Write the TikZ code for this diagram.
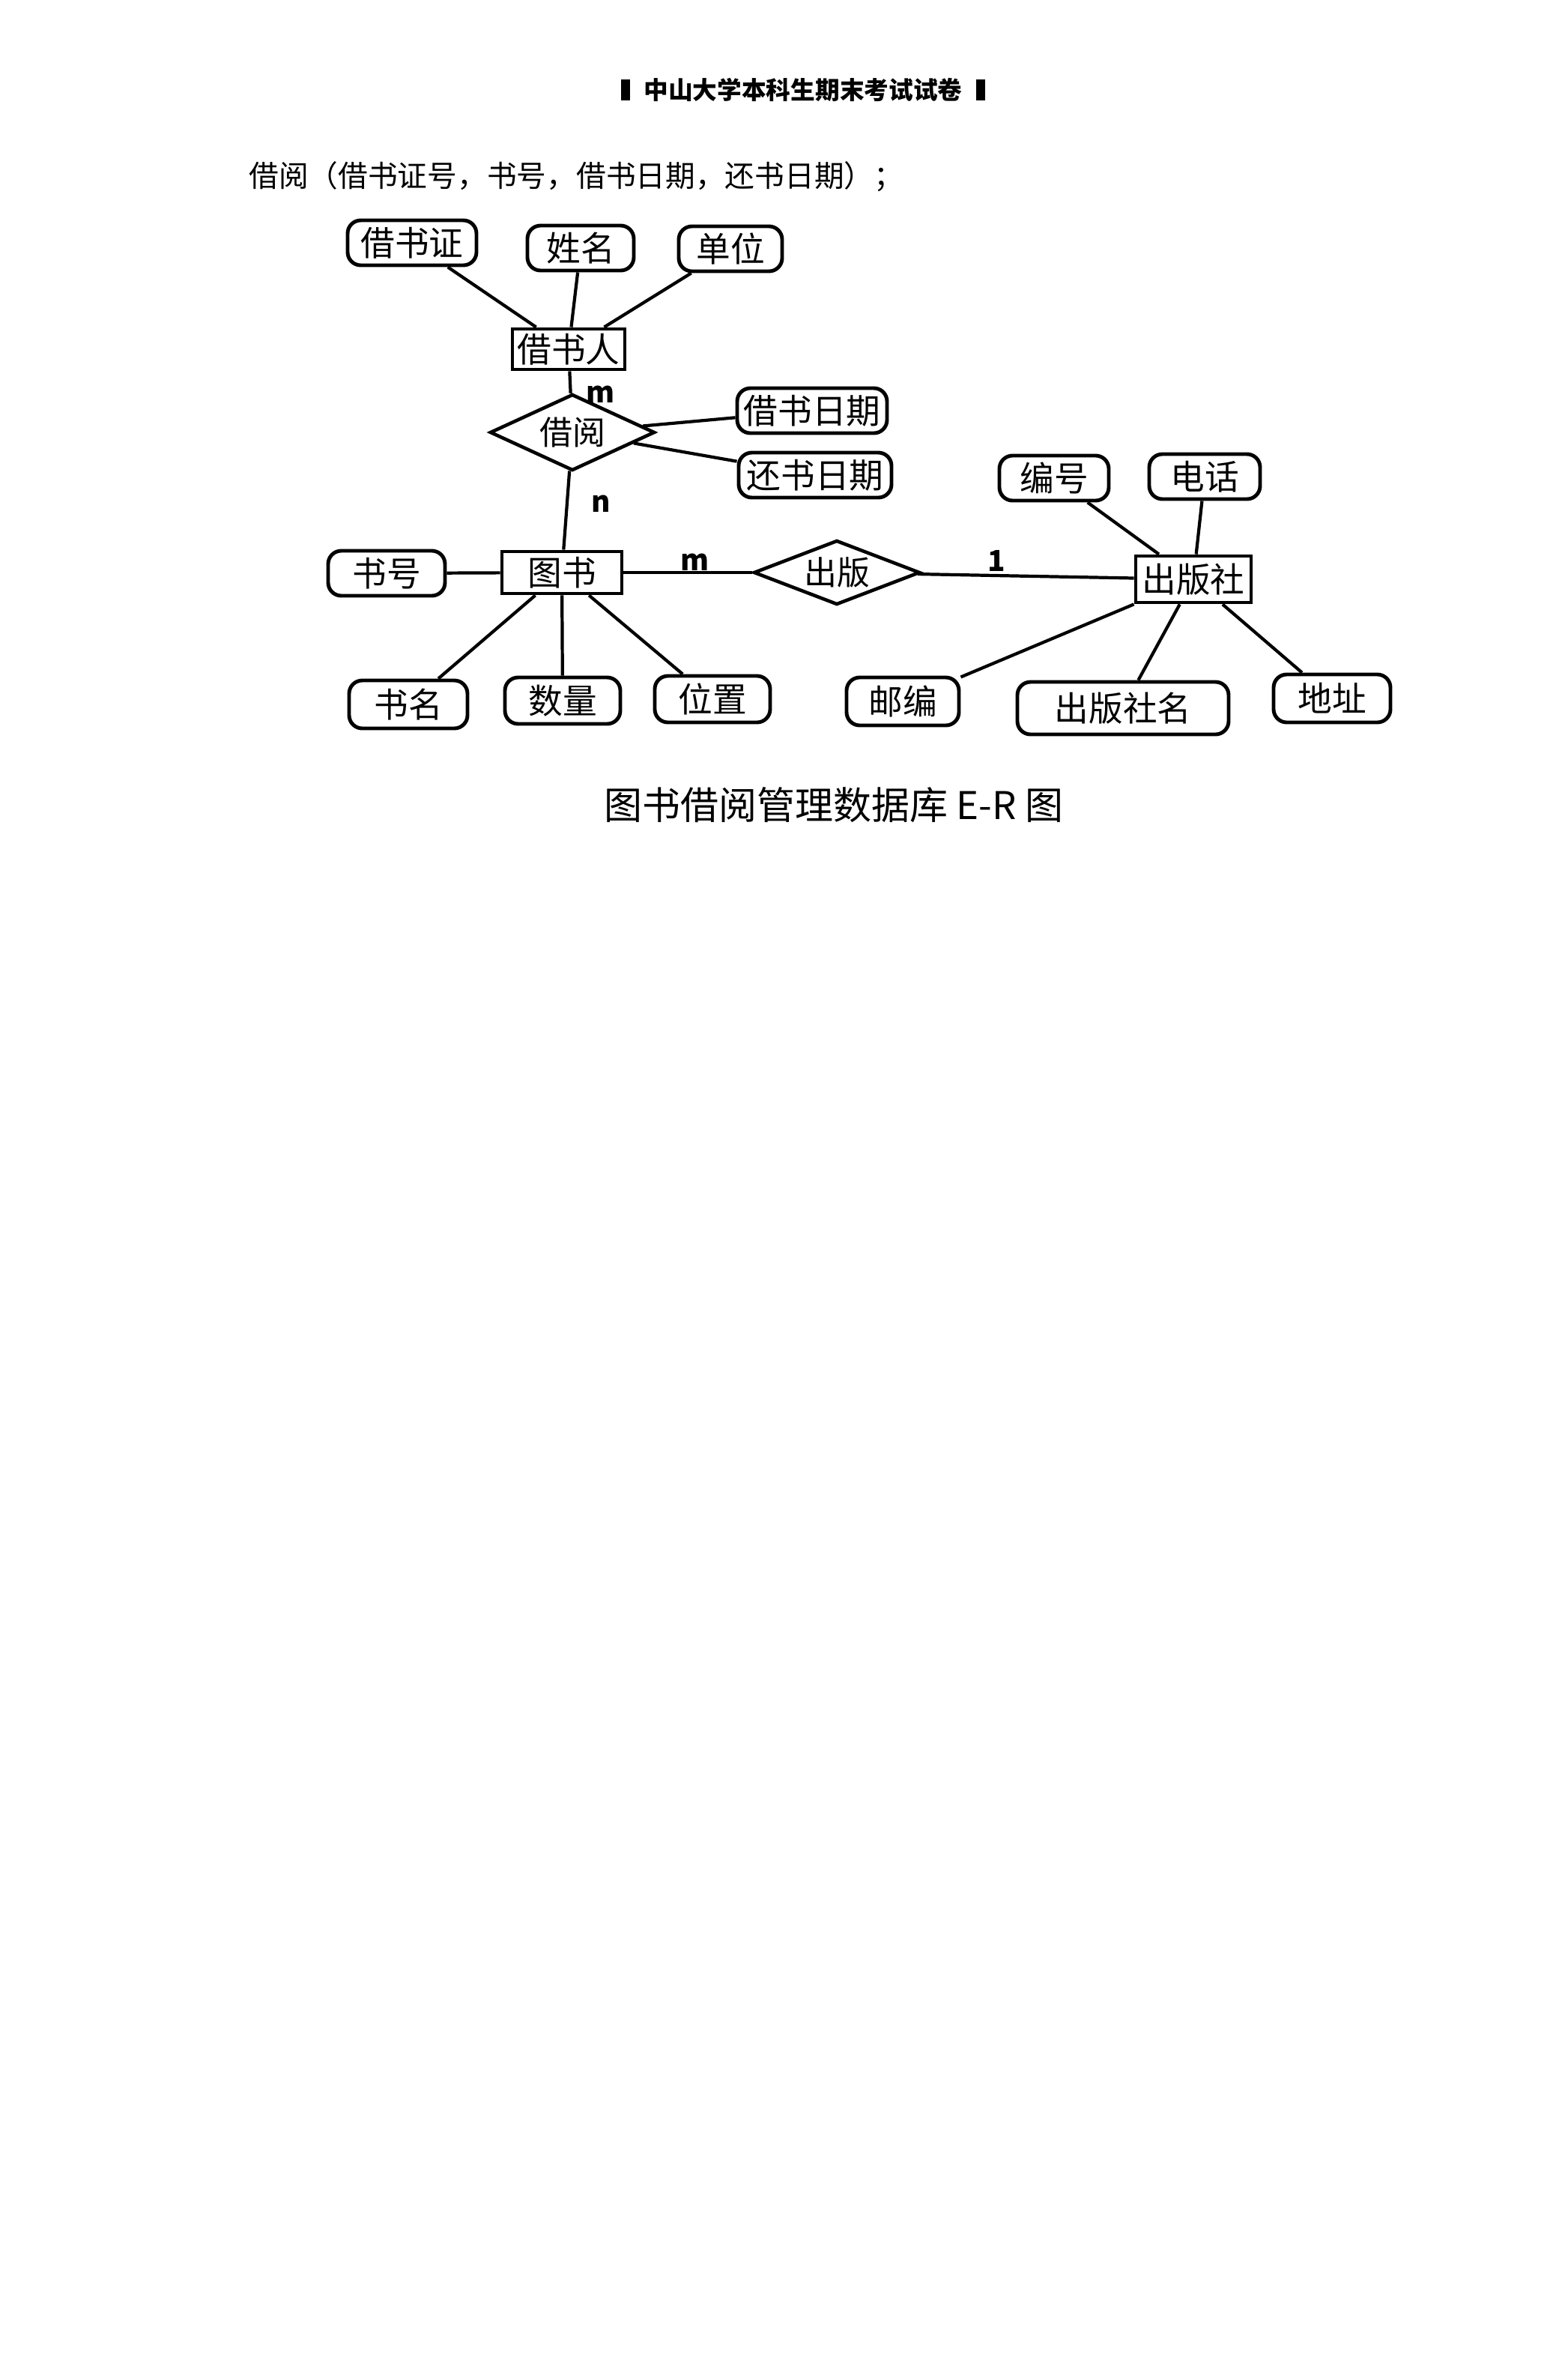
\documentclass[tikz,border=0pt]{standalone}
\usepackage{fontspec}
\setmainfont{Noto Sans CJK SC}
\usetikzlibrary{shapes.geometric, positioning}
\begin{document}
\begin{tikzpicture}[
attrnode/.style={rectangle, rounded corners=5pt, draw=black, line width=1.4pt, minimum height=0.6cm, inner sep=1pt, font=\fontsize{13}{13}\selectfont},
entitynode/.style={rectangle, draw=black, line width=1.4pt, minimum height=0.54cm, inner sep=1pt, font=\fontsize{13}{13}\selectfont},
relnode/.style={diamond, draw=black, line width=1.3pt, inner sep=0pt, font=\fontsize{12.5}{12.5}\selectfont},
cardnode/.style={font=\bfseries\fontsize{11}{11}\selectfont},
link/.style={line width=1.2pt},
]
\useasboundingbox (0,0) rectangle (20.92,-31.60);
%Text
\node[font=\bfseries\fontsize{9.3}{9.3}\selectfont](header) at(10.72,-1.20) {中山大学本科生期末考试试卷};
\node[fill=black, minimum width=0.12cm, minimum height=0.28cm, inner sep=0pt, left=0.05cm of header](headl) {};
\node[fill=black, minimum width=0.12cm, minimum height=0.28cm, inner sep=0pt, right=0.05cm of header](headr) {};
\node[anchor=west, font=\fontsize{11.3}{11.3}\selectfont](schema) at(3.20,-2.36) {借阅（借书证号，书号，借书日期，还书日期）；};
\node[font=\fontsize{14.5}{14.5}\selectfont](caption) at(11.13,-10.74) {图书借阅管理数据库 E-R 图};
%Nodes
\node[attrnode, minimum width=1.72cm](cardno) at(5.50,-3.24) {借书证};
\node[attrnode, minimum width=1.42cm](name) at(7.75,-3.31) {姓名};
\node[attrnode, minimum width=1.38cm](unit) at(9.75,-3.32) {单位};
\node[entitynode, minimum width=1.50cm](reader) at(7.59,-4.66) {借书人};
\node[relnode, aspect=2, minimum width=2.20cm, minimum height=1.02cm](borrow) at(7.64,-5.77) {借阅};
\node[attrnode, minimum width=2.00cm](borrowdate) at(10.84,-5.48) {借书日期};
\node[attrnode, minimum width=2.04cm](returndate) at(10.88,-6.34) {还书日期};
\node[attrnode, minimum width=1.46cm](pubno) at(14.07,-6.38) {编号};
\node[attrnode, minimum width=1.48cm](phone) at(16.08,-6.36) {电话};
\node[attrnode, minimum width=1.56cm](bookno) at(5.16,-7.65) {书号};
\node[entitynode, minimum width=1.60cm, minimum height=0.56cm](book) at(7.50,-7.64) {图书};
\node[relnode, aspect=2.5, minimum width=2.22cm, minimum height=0.86cm](publish) at(11.17,-7.64) {出版};
\node[entitynode, minimum width=1.54cm, minimum height=0.62cm](press) at(15.93,-7.73) {出版社};
\node[attrnode, minimum width=1.58cm, minimum height=0.64cm](title) at(5.45,-9.40) {书名};
\node[attrnode, minimum width=1.54cm, minimum height=0.62cm](amount) at(7.51,-9.35) {数量};
\node[attrnode, minimum width=1.54cm, minimum height=0.62cm](place) at(9.51,-9.33) {位置};
\node[attrnode, minimum width=1.50cm, minimum height=0.64cm](zipcode) at(12.05,-9.36) {邮编};
\node[attrnode, minimum width=2.82cm, minimum height=0.70cm](pressname) at(14.99,-9.45) {出版社名};
\node[attrnode, minimum width=1.56cm, minimum height=0.64cm](address) at(17.78,-9.32) {地址};
%Cardinalities
\node[cardnode](m1) at(8.02,-5.26) {m};
\node[cardnode](n1) at(8.02,-6.72) {n};
\node[cardnode](m2) at(9.28,-7.50) {m};
\node[cardnode](one) at(13.30,-7.48) {1};
%Lines
\draw[link] (cardno) -- (reader);
\draw[link] (name) -- (reader);
\draw[link] (unit) -- (reader);
\draw[link] (reader) -- (borrow);
\draw[link] (borrow) -- (borrowdate);
\draw[link] (borrow) -- (returndate);
\draw[link] (borrow) -- (book);
\draw[link] (bookno) -- (book);
\draw[link] (book) -- (publish);
\draw[link] (publish) -- (press);
\draw[link] (book) -- (title);
\draw[link] (book) -- (amount);
\draw[link] (book) -- (place);
\draw[link] (pubno) -- (press);
\draw[link] (phone) -- (press);
\draw[link] (press) -- (zipcode);
\draw[link] (press) -- (pressname);
\draw[link] (press) -- (address);
\end{tikzpicture}
\end{document}
